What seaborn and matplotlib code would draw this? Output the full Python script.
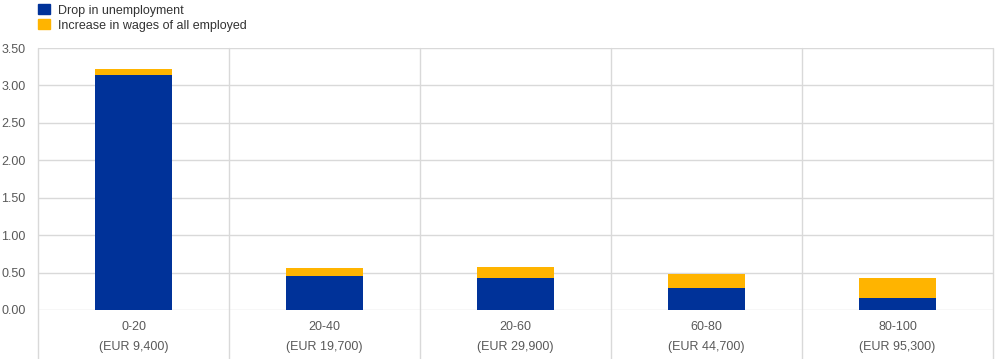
import matplotlib
matplotlib.use("Agg")
import matplotlib.pyplot as plt
import matplotlib.patches as mpatches
import pandas as pd
import seaborn as sns

# Income quintiles and the two contributions
quintiles = ["0-20", "20-40", "20-60", "60-80", "80-100"]
incomes = ["(EUR 9,400)", "(EUR 19,700)", "(EUR 29,900)", "(EUR 44,700)", "(EUR 95,300)"]
unemployment = [3.14, 0.46, 0.43, 0.29, 0.16]
wages = [0.08, 0.10, 0.14, 0.19, 0.27]
yticks = [0.0, 0.5, 1.0, 1.5, 2.0, 2.5, 3.0, 3.5]

BLUE = "#003299"
YELLOW = "#FFB400"
GRID = "#d9d9d9"
TEXT = "#595959"

df = pd.DataFrame({
    "label": [f"{q}\n{i}" for q, i in zip(quintiles, incomes)],
    "unemployment": unemployment,
    "wages": wages,
})
df["total"] = df["unemployment"] + df["wages"]

sns.set_theme(style="white")
plt.rcParams["font.family"] = ["Liberation Sans", "DejaVu Sans"]

fig = plt.figure(figsize=(10.04, 3.59), dpi=100)
ax = fig.add_axes([38 / 1004, 1 - 310 / 359, (993 - 38) / 1004, 262 / 359])

# stacked bars: total in yellow, blue drawn over it
sns.barplot(data=df, x="label", y="total", color=YELLOW, width=0.4,
            saturation=1, linewidth=0, ax=ax, zorder=3)
sns.barplot(data=df, x="label", y="unemployment", color=BLUE, width=0.4,
            saturation=1, linewidth=0, ax=ax, zorder=3)

ax.set_ylim(0, 3.5)
ax.set_xlim(-0.5, len(quintiles) - 0.5)
ax.set_yticks(yticks)
ax.set_yticklabels([f"{v:.2f}" for v in yticks])
ax.set_xlabel("")
ax.set_ylabel("")
for v in yticks:
    ax.axhline(v, color=GRID, lw=1, zorder=1)
for x in [i - 0.5 for i in range(len(quintiles) + 1)]:
    ax.axvline(x, ymin=-0.19, ymax=1, color=GRID, lw=1, zorder=1, clip_on=False)
for s in ax.spines.values():
    s.set_visible(False)

ax.tick_params(axis="both", length=0, labelsize=9, labelcolor=TEXT)
ax.tick_params(axis="x", pad=8)
ax.tick_params(axis="y", pad=9)
for t in ax.get_xticklabels():
    t.set_linespacing(1.9)
    t.set_va("top")

handles = [mpatches.Patch(color=BLUE, label="Drop in unemployment"),
           mpatches.Patch(color=YELLOW, label="Increase in wages of all employed")]
fig.legend(handles=handles, loc="upper left", bbox_to_anchor=(27 / 1004, 1.02),
           frameon=False, fontsize=9, handlelength=0.9, handleheight=0.9,
           handletextpad=0.7, labelspacing=0.2, labelcolor="#333333")

fig.savefig("out.png", dpi=100)
